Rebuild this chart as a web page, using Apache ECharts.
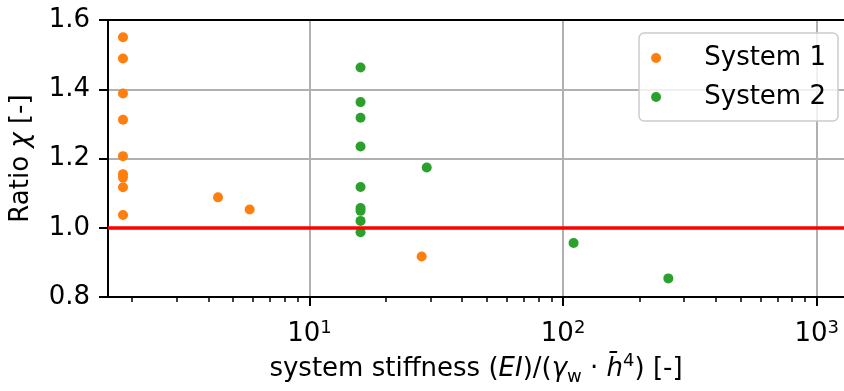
<!DOCTYPE html>
<html>
<head>
<meta charset="utf-8">
<script src="https://cdn.jsdelivr.net/npm/echarts@6/dist/echarts.min.js"></script>
<style>
    html, body { margin: 0; padding: 0; background: #fff; }
    #chart { width: 844px; height: 391px; }
</style>
</head>
<body>
<div id="chart"></div>
<script>
// System 1 (orange) and System 2 (green)
var sys1X = [1.84, 1.84, 1.84, 1.84, 1.84, 1.84, 1.84, 1.84, 1.84, 4.36, 5.81, 27.7];
var sys1Y = [1.550, 1.489, 1.388, 1.312, 1.207, 1.155, 1.145, 1.117, 1.037, 1.088, 1.053, 0.917];
var sys2X = [15.9, 15.9, 15.9, 15.9, 15.9, 15.9, 15.9, 15.9, 15.9, 29.0, 110, 260];
var sys2Y = [1.463, 1.363, 1.318, 1.235, 1.118, 1.057, 1.049, 1.020, 0.987, 1.174, 0.956, 0.854];

var majorX = [10, 100, 1000];
var minorX = [2, 3, 4, 5, 6, 7, 8, 9, 20, 30, 40, 50, 60, 70, 80, 90, 200, 300, 400, 500, 600, 700, 800, 900];
var legendNames = ['System 1', 'System 2'];

var FONT = 'DejaVu Sans';

function pairs(xs, ys) {
    var out = [];
    for (var i = 0; i < xs.length; i++) out.push([xs[i], ys[i]]);
    return out;
}

var myChart = echarts.init(document.getElementById('chart'));

var option = {
    animation: false,
    textStyle: { fontFamily: FONT, color: '#000' },
    grid: { left: 108, top: 20, right: -2, bottom: 88 },
    legend: {
        data: legendNames,
        orient: 'vertical',
        right: 6,
        top: 33,
        padding: [10, 12, 9, 12],
        itemGap: 9,
        itemWidth: 50,
        itemHeight: 10,
        backgroundColor: 'rgba(255,255,255,0.8)',
        borderColor: '#cccccc',
        borderWidth: 1.5,
        borderRadius: 5,
        // en space + thin space: wider gap between dot and text, as in matplotlib
        formatter: function (name) { return '\u2002\u2009' + name; },
        textStyle: { fontFamily: FONT, fontSize: 26, lineHeight: 30, color: '#000' }
    },
    xAxis: [
        {
            type: 'log',
            logBase: 10,
            min: 1.606,
            max: 1281,
            position: 'bottom',
            name: '{a|system stiffness (}{i|EI}{a|)/(}{i|γ}{sub|w}{a| · }{i|h\u0304}{sup|4}{a|) [-]}',
            nameLocation: 'middle',
            nameGap: 54,
            nameTextStyle: {
                rich: {
                    a: { fontFamily: FONT, fontSize: 26, color: '#000', lineHeight: 34 },
                    i: { fontFamily: FONT, fontSize: 26, fontStyle: 'italic', color: '#000', lineHeight: 34 },
                    sub: { fontFamily: FONT, fontSize: 18, color: '#000', verticalAlign: 'bottom', lineHeight: 34 },
                    sup: { fontFamily: FONT, fontSize: 18, color: '#000', verticalAlign: 'top', lineHeight: 34 }
                }
            },
            axisLine: { show: true, lineStyle: { color: '#000', width: 2 } },
            axisTick: { show: true, customValues: majorX, length: 9, lineStyle: { color: '#000', width: 2 } },
            axisLabel: {
                customValues: majorX,
                margin: 22,
                formatter: function (v) {
                    var p = Math.round(Math.log10(v));
                    return '{b|10}{s|' + p + '}';
                },
                rich: {
                    b: { fontFamily: FONT, fontSize: 26, color: '#000', lineHeight: 30 },
                    s: { fontFamily: FONT, fontSize: 18, color: '#000', verticalAlign: 'top', lineHeight: 30 }
                }
            },
            splitLine: { show: true, lineStyle: { color: '#b0b0b0', width: 2 } }
        },
        {
            // minor ticks only
            type: 'log',
            logBase: 10,
            min: 1.606,
            max: 1281,
            position: 'bottom',
            axisLine: { show: false },
            axisTick: { show: true, customValues: minorX, length: 5, lineStyle: { color: '#000', width: 1.5 } },
            axisLabel: { show: false },
            splitLine: { show: false }
        },
        {
            // top spine
            type: 'log',
            logBase: 10,
            min: 1.606,
            max: 1281,
            position: 'top',
            z: 5,
            axisLine: { show: true, lineStyle: { color: '#000', width: 2 } },
            axisTick: { show: false },
            axisLabel: { show: false },
            splitLine: { show: false }
        }
    ],
    yAxis: {
        type: 'value',
        min: 0.8,
        max: 1.6,
        interval: 0.2,
        name: '{a|Ratio }{i|χ}{a| [-]}',
        nameLocation: 'middle',
        nameRotate: 90,
        nameGap: 74,
        nameTextStyle: {
            rich: {
                a: { fontFamily: FONT, fontSize: 26, color: '#000' },
                i: { fontFamily: FONT, fontSize: 26, fontStyle: 'italic', color: '#000' }
            }
        },
        axisLine: { show: true, lineStyle: { color: '#000', width: 2 } },
        axisTick: { show: true, length: 9, lineStyle: { color: '#000', width: 2 } },
        axisLabel: {
            margin: 18,
            fontFamily: FONT,
            fontSize: 26,
            color: '#000',
            formatter: function (v) { return v.toFixed(1); }
        },
        splitLine: { show: true, lineStyle: { color: '#b0b0b0', width: 2 } }
    },
    series: [
        {
            name: 'System 1',
            type: 'scatter',
            symbol: 'circle',
            symbolSize: 10,
            itemStyle: { color: '#ff7f0e', opacity: 1 },
            data: pairs(sys1X, sys1Y)
        },
        {
            name: 'System 2',
            type: 'scatter',
            symbol: 'circle',
            symbolSize: 10,
            itemStyle: { color: '#2ca02c', opacity: 1 },
            data: pairs(sys2X, sys2Y),
            markLine: {
                silent: true,
                symbol: 'none',
                label: { show: false },
                lineStyle: { color: 'red', width: 3.5, type: 'solid' },
                data: [{ yAxis: 1.0 }]
            }
        }
    ]
};

myChart.setOption(option);
</script>
</body>
</html>
